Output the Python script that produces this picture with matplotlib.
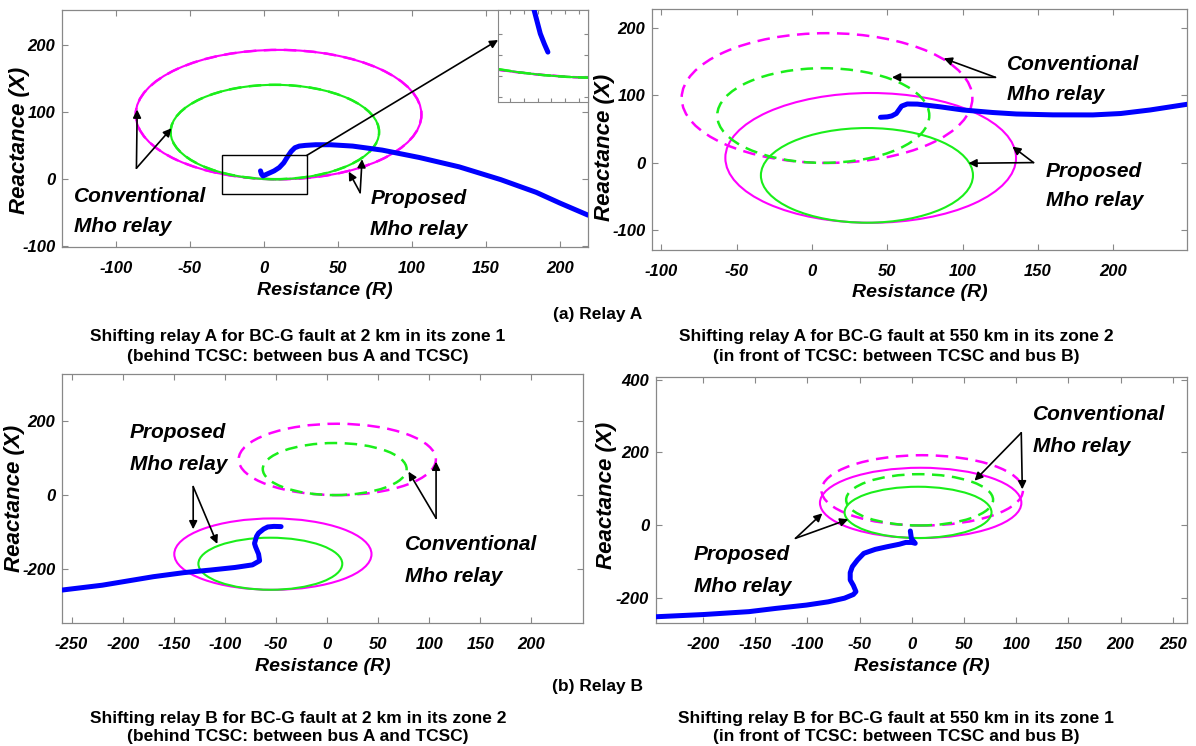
import matplotlib
matplotlib.use("Agg")
import matplotlib.pyplot as plt
from matplotlib.patches import Circle, Rectangle

# ---------------- data ----------------
# Conventional mho circles (centre R, centre X, radius): same in every panel
conv_magenta = (10.0, 96.0, 96.5)
conv_green = (7.5, 70.0, 70.4)

# Shift applied to obtain the proposed mho circles, per panel
shift_a1 = (0.0, 0.0)
shift_a2 = (29.0, -89.0)
shift_b1 = (-63.0, -256.0)
shift_b2 = (-1.5, -34.5)

# Impedance trajectories (R, X)
traj_a1_R = [219, 200, 184, 160, 132, 105, 80, 60, 45, 35, 28, 24, 21, 18.5, 16, 13.5,
             10.5, 7, 2.5, -0.5, -1.5, -2.2]
traj_a1_X = [-54, -36, -20, -1, 18, 32, 43, 49, 51, 51, 50, 49, 46.5, 41, 33, 24,
             17, 12, 7.5, 4.5, 7, 12]
# final approach shown magnified in the inset
inset_R = [-0.5, -1.0, -1.6, -2.2, -2.6]
inset_X = [4.5, 6.0, 8.0, 11.0, 13.0]

traj_a2_R = [45.5, 50, 53, 56, 59.5, 63.3, 70, 85, 100, 120, 135.7, 160, 186.5, 205, 224.6, 249]
traj_a2_X = [67.4, 68, 69.4, 73, 84, 87.2, 87, 83, 78.3, 74.5, 72.3, 71, 70.9, 73, 78.3, 86.7]

traj_b1_R = [-259, -220, -170, -140, -114, -90, -73, -66, -67, -70, -71, -69, -67, -62, -58, -52, -45]
traj_b1_X = [-257, -244, -221, -210, -203, -196, -189, -178, -160, -140, -131, -112, -103, -92,
             -86.5, -85, -85.6]

traj_b2_R = [-245, -200, -156, -130, -101, -80, -64.5, -56, -53.5, -56, -59, -59, -57, -52, -46,
             -35, -24, -12, -5.8, 0, 3.3, 2, -0.4, -1.4]
traj_b2_X = [-251, -245, -237, -228, -219, -210, -200, -190, -182, -165, -150, -130, -113.6, -95,
             -77, -66, -59, -52, -47, -47, -49.4, -45, -35.7, -15.6]

# Axis ranges and ticks
xlim_a1, ylim_a1 = (-136, 219), (-102, 252)
xlim_a2, ylim_a2 = (-106, 249), (-130, 228)
xlim_b1, ylim_b1 = (-259, 250), (-347, 327)
xlim_b2, ylim_b2 = (-245, 264), (-269, 408)
xt_a1, yt_a1 = [-100, -50, 0, 50, 100, 150, 200], [-100, 0, 100, 200]
xt_a2, yt_a2 = [-100, -50, 0, 50, 100, 150, 200], [-100, 0, 100, 200]
xt_b1, yt_b1 = [-250, -200, -150, -100, -50, 0, 50, 100, 150, 200], [-200, 0, 200]
xt_b2, yt_b2 = [-200, -150, -100, -50, 0, 50, 100, 150, 200, 250], [-200, 0, 200, 400]

# ---------------- styling ----------------
W, H = 1196, 746
MAG = "#ff00ff"
GRN = "#1aee1a"
BLU = "#0000ff"
NARROW = ["Liberation Sans Narrow", "Liberation Sans", "DejaVu Sans"]
SANS = ["Liberation Sans", "DejaVu Sans"]

fig = plt.figure(figsize=(W / 100, H / 100), dpi=100)


def fig_rect(l, t, r, b):
    return [l / W, 1 - b / H, (r - l) / W, (b - t) / H]


def ftext(x, y, s, **kw):
    fig.text(x / W, 1 - y / H, s, **kw)


def style_axes(ax, xlim, ylim, xt, yt, ylab_xy):
    ax.set_xlim(*xlim)
    ax.set_ylim(*ylim)
    ax.set_xticks(xt)
    ax.set_yticks(yt)
    ax.set_xticklabels([str(v) for v in xt], fontfamily=NARROW, fontweight="bold",
                       fontstyle="italic", fontsize=12)
    ax.set_yticklabels([str(v) for v in yt], fontfamily=NARROW, fontweight="bold",
                       fontstyle="italic", fontsize=12)
    ax.tick_params(direction="in", length=4, width=0.8, color="#888888",
                   top=True, right=True)
    ax.tick_params(axis="x", pad=10)
    ax.tick_params(axis="y", pad=5)
    for sp in ax.spines.values():
        sp.set_color("#888888")
        sp.set_linewidth(0.9)
    ax.set_xlabel("Resistance (R)", fontfamily=NARROW, fontweight="bold",
                  fontstyle="italic", fontsize=14, labelpad=4)
    ax.set_ylabel("Reactance (X)", fontfamily=NARROW, fontweight="bold",
                  fontstyle="italic", fontsize=16)
    ax.yaxis.set_label_coords(*ylab_xy)


def draw_circles(ax, shift):
    for (cx, cy, r), col in ((conv_magenta, MAG), (conv_green, GRN)):
        ax.add_patch(Circle((cx + shift[0], cy + shift[1]), r, fill=False, ec=col,
                            lw=1.5, zorder=2))
        ax.add_patch(Circle((cx, cy), r, fill=False, ec=col, lw=1.8,
                            ls=(0, (5, 3)), zorder=2))


def arrow(ax, tail, head):
    ax.annotate("", xy=head, xytext=tail,
                arrowprops=dict(arrowstyle="-|>", color="black", lw=1.2,
                                mutation_scale=12, shrinkA=0, shrinkB=0),
                annotation_clip=False)


label_kw = dict(fontfamily=NARROW, fontweight="bold", fontstyle="italic",
                fontsize=15, ha="left", va="center")


def label2(x, y1, y2, w1, w2):
    ftext(x, y1, w1, **label_kw)
    ftext(x, y2, w2, **label_kw)


# ---------------- panel (a) left ----------------
ax1 = fig.add_axes(fig_rect(62.4, 10, 588, 247.3))
draw_circles(ax1, shift_a1)
ax1.plot(traj_a1_R, traj_a1_X, color=BLU, lw=3.6, solid_capstyle="round", zorder=3)
style_axes(ax1, xlim_a1, ylim_a1, xt_a1, yt_a1, (-0.062, 0.45))
ax1.add_patch(Rectangle((-28, -22), 57, 57, fill=False, ec="black", lw=1.0, zorder=4))
arrow(ax1, (-86, 16), (-85.5, 103.5))
arrow(ax1, (-86, 16), (-62.3, 75.6))
arrow(ax1, (65.1, -20.4), (57.4, 10.9))
arrow(ax1, (65.1, -20.4), (66.4, 29.4))
label2(74, 196.7, 226.7, "Conventional", "Mho relay")
label2(370.5, 199, 229.3, "Proposed", "Mho relay")

ins = ax1.inset_axes([0.829, 0.612, 0.171, 0.388])
draw_circles(ins, shift_a1)
ins.plot(inset_R, inset_X, color=BLU, lw=3.6, solid_capstyle="round", zorder=3)
ins.set_xlim(-7.7, 5.3)
ins.set_ylim(-5, 12.5)
ins.set_xticks([-6, -4, -2, 0, 2, 4])
ins.set_yticks([-4, 0, 4, 8])
ins.set_xticklabels([])
ins.set_yticklabels([])
ins.tick_params(direction="in", length=3, color="#888888", top=True, right=True)
for sp in ins.spines.values():
    sp.set_color("#888888")
ax1.annotate("", xy=(0, 0.674), xycoords=ins.transAxes, xytext=(29, 35),
             textcoords="data",
             arrowprops=dict(arrowstyle="-|>", color="black", lw=1.2,
                             mutation_scale=12, shrinkA=0, shrinkB=0),
             annotation_clip=False)

# ---------------- panel (a) right ----------------
ax2 = fig.add_axes(fig_rect(652.3, 9.3, 1187, 250))
draw_circles(ax2, shift_a2)
ax2.plot(traj_a2_R, traj_a2_X, color=BLU, lw=3.6, solid_capstyle="round", zorder=3)
style_axes(ax2, xlim_a2, ylim_a2, xt_a2, yt_a2, (-0.070, 0.425))
arrow(ax2, (121.8, 126.8), (87.5, 155))
arrow(ax2, (121.8, 126.8), (53.1, 126.8))
arrow(ax2, (147.1, 0), (133.1, 23.8))
arrow(ax2, (147.1, 0), (103.9, -1))
label2(1007.4, 64.3, 94.3, "Conventional", "Mho relay")
label2(1045.7, 171.7, 200, "Proposed", "Mho relay")

# ---------------- panel (b) left ----------------
ax3 = fig.add_axes(fig_rect(62.4, 374, 582.5, 623.3))
draw_circles(ax3, shift_b1)
ax3.plot(traj_b1_R, traj_b1_X, color=BLU, lw=3.6, solid_capstyle="round", zorder=3)
style_axes(ax3, xlim_b1, ylim_b1, xt_b1, yt_b1, (-0.072, 0.50))
arrow(ax3, (-131, 22.5), (-131, -92.8))
arrow(ax3, (-131, 22.5), (-107.4, -132.4))
arrow(ax3, (106.7, -63), (106.7, 90))
arrow(ax3, (106.7, -63), (79.7, 63))
label2(130.1, 432.7, 465, "Proposed", "Mho relay")
label2(404.5, 545, 576.7, "Conventional", "Mho relay")

# ---------------- panel (b) right ----------------
ax4 = fig.add_axes(fig_rect(656.1, 376.7, 1187.3, 623.3))
draw_circles(ax4, shift_b2)
ax4.plot(traj_b2_R, traj_b2_X, color=BLU, lw=3.6, solid_capstyle="round", zorder=3)
style_axes(ax4, xlim_b2, ylim_b2, xt_b2, yt_b2, (-0.074, 0.52))
arrow(ax4, (104.9, 254), (60.1, 122.4))
arrow(ax4, (104.9, 254), (105.9, 98.8))
arrow(ax4, (-111.4, -35.7), (-85.7, 32.9))
arrow(ax4, (-111.4, -35.7), (-60.8, 16.5))
label2(1033, 415, 446.7, "Conventional", "Mho relay")
label2(693.6, 554.3, 586, "Proposed", "Mho relay")

# ---------------- captions ----------------
cap_kw = dict(fontfamily=SANS, fontweight="bold", fontsize=12.5, ha="center", va="center")
ftext(598, 314, "(a) Relay A", **cap_kw)
ftext(298, 336, "Shifting relay A for BC-G fault at 2 km in its zone 1", **cap_kw)
ftext(298, 356, "(behind TCSC: between bus A and TCSC)", **cap_kw)
ftext(896, 336, "Shifting relay A for BC-G fault at 550 km in its zone 2", **cap_kw)
ftext(896, 356, "(in front of TCSC: between TCSC and bus B)", **cap_kw)
ftext(598, 686, "(b) Relay B", **cap_kw)
ftext(298, 718, "Shifting relay B for BC-G fault at 2 km in its zone 2", **cap_kw)
ftext(298, 737, "(behind TCSC: between bus A and TCSC)", **cap_kw)
ftext(896, 718, "Shifting relay B for BC-G fault at 550 km in its zone 1", **cap_kw)
ftext(896, 737, "(in front of TCSC: between TCSC and bus B)", **cap_kw)

fig.savefig("out.png", dpi=100)
